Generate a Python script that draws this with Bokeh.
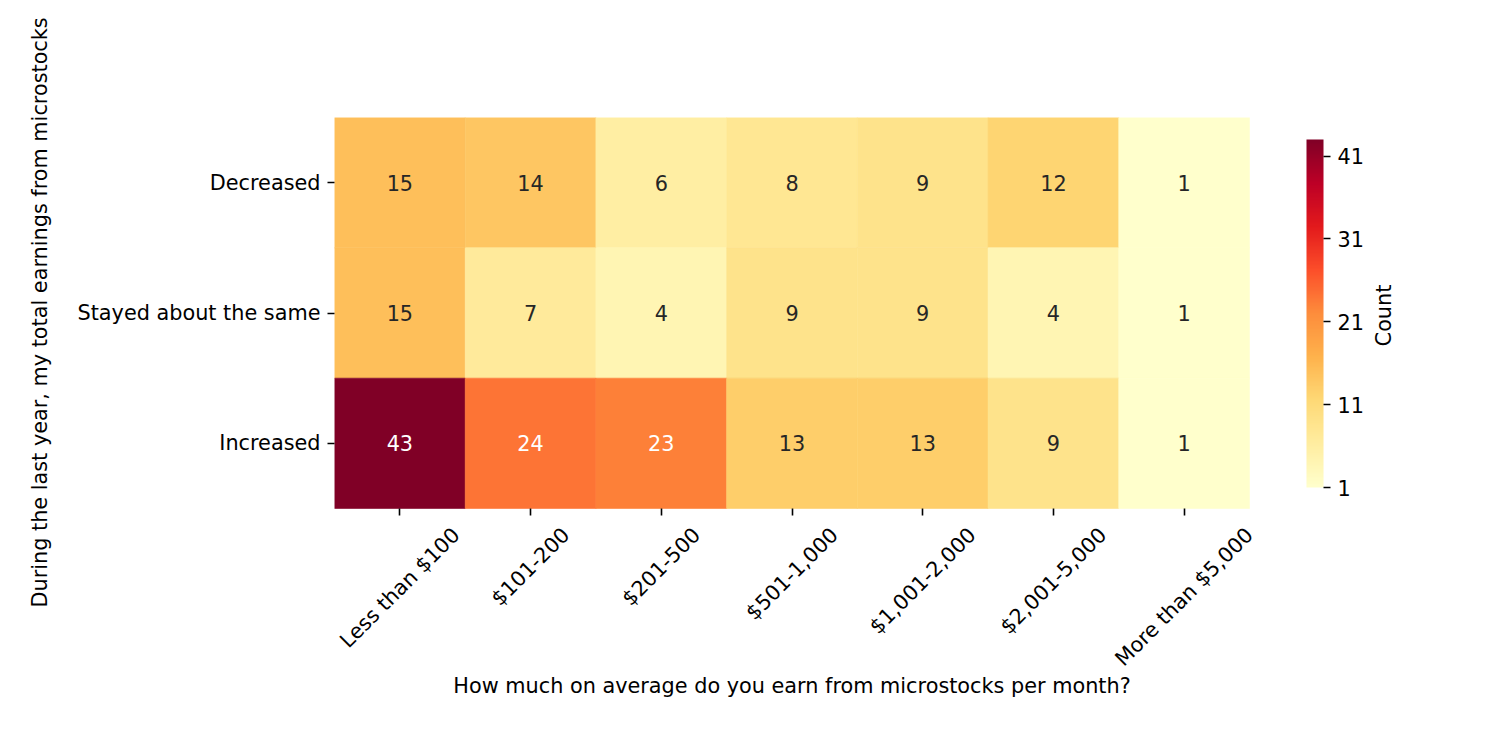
import numpy as np
from bokeh.plotting import figure
from bokeh.models import (ColumnDataSource, Range1d, LinearColorMapper,
                          FixedTicker, LinearAxis, Title)
from bokeh.transform import transform
from bokeh.core.properties import value
from bokeh.embed import file_html
from bokeh.resources import INLINE

# ---- data ----
earn_cats = ["Less than $100", "$101-200", "$201-500", "$501-1,000",
             "$1,001-2,000", "$2,001-5,000", "More than $5,000"]
trend_cats = ["Decreased", "Stayed about the same", "Increased"]
decreased = [15, 14, 6, 8, 9, 12, 1]
stayed = [15, 7, 4, 9, 9, 4, 1]
increased = [43, 24, 23, 13, 13, 9, 1]
cbar_ticks = [1, 11, 21, 31, 41]
vmin, vmax = 1, 43
x_title = "How much on average do you earn from microstocks per month?"
y_title = "During the last year, my total earnings from microstocks"
cb_title = "Count"

FONT = "DejaVu Sans"
FS = 20.8  # px
TXT_DARK = "#262626"

# ---- layout (pixels) ----
FRAME_L, FRAME_T = 334, 117
HEAT_W, HEAT_H = 915, 391
FRAME_W, FRAME_H = 1076, 588
CB_L, CB_R, CB_T, CB_B = 1306, 1323, 139, 487
CB_TITLE_X, CB_TITLE_Y = 1383, 315
XTITLE_Y = 685
YTITLE_BOTTOM = 607
TICK = 7
PAD = 7.3

nx, ny = len(earn_cats), len(trend_cats)
ux = HEAT_W / nx
uy = HEAT_H / ny
heat_bottom = FRAME_T + HEAT_H
cbu = (CB_B - CB_T) / (vmax - vmin)

# YlOrRd palette (ColorBrewer 9) interpolated to 256
base = ['#ffffcc', '#ffeda0', '#fed976', '#feb24c', '#fd8d3c',
        '#fc4e2a', '#e31a1c', '#bd0026', '#800026']
def h2rgb(h):
    return np.array([int(h[i:i + 2], 16) for i in (1, 3, 5)], dtype=float)
brgb = np.array([h2rgb(c) for c in base])
pos = np.linspace(0, 1, len(base))
t = np.linspace(0, 1, 256)
pal_rgb = np.stack([np.interp(t, pos, brgb[:, k]) for k in range(3)], axis=1)
palette = ["#%02x%02x%02x" % tuple(int(round(v)) for v in c) for c in pal_rgb]
mapper = LinearColorMapper(palette=palette, low=vmin, high=vmax)

# row index 0 = bottom (Increased)
xs, ys, vals, tcolors = [], [], [], []
for cat, series in zip(trend_cats, [decreased, stayed, increased]):
    r_idx = ny - 1 - trend_cats.index(cat)
    for c_idx, v in enumerate(series):
        xs.append(c_idx + 0.5)
        ys.append(r_idx + 0.5)
        vals.append(v)
        idx = int(np.clip((v - vmin) / (vmax - vmin) * 255, 0, 255))
        r, g, b = pal_rgb[idx] / 255.0
        lin = [c / 12.92 if c <= 0.03928 else ((c + 0.055) / 1.055) ** 2.4 for c in (r, g, b)]
        lum = 0.2126 * lin[0] + 0.7152 * lin[1] + 0.0722 * lin[2]
        tcolors.append("#ffffff" if lum < 0.408 else TXT_DARK)
src = ColumnDataSource(dict(x=xs, y=ys, v=vals, txt=[str(v) for v in vals], tc=tcolors))

x_range = Range1d(0, FRAME_W / ux)
y_range = Range1d(ny - FRAME_H / uy, ny)
cb_range = Range1d(vmin - (FRAME_T + FRAME_H - CB_B) / cbu, vmax + (CB_T - FRAME_T) / cbu)

p = figure(x_range=x_range, y_range=y_range, frame_width=FRAME_W, frame_height=FRAME_H,
           output_backend="svg", toolbar_location=None,
           min_border_left=FRAME_L, min_border_top=FRAME_T,
           min_border_right=0, min_border_bottom=0)
p.extra_y_ranges = {"cb": cb_range}
p.outline_line_color = None
p.grid.grid_line_color = None
p.background_fill_color = "#ffffff"
p.border_fill_color = "#ffffff"

# heatmap cells
p.rect(x="x", y="y", width=1, height=1, source=src,
       fill_color=transform("v", mapper), line_color=transform("v", mapper),
       line_width=0.6)
p.text(x="x", y="y", text="txt", source=src, text_color="tc",
       text_align="center", text_baseline="middle", text_font_size=f"{FS}px",
       text_font=value(FONT))

# axes
def style_axis(ax):
    ax.axis_line_color = None
    ax.major_tick_line_color = "#000000"
    ax.major_tick_line_width = 1.6
    ax.major_tick_in = 0
    ax.major_tick_out = TICK
    ax.minor_tick_line_color = None
    ax.major_label_text_font = FONT
    ax.major_label_text_font_size = f"{FS}px"
    ax.major_label_text_color = "#000000"
    ax.major_label_standoff = 7
    ax.axis_label_text_font = FONT
    ax.axis_label_text_font_size = f"{FS}px"
    ax.axis_label_text_font_style = "normal"
    ax.axis_label_text_color = "#000000"

ya = p.yaxis[0]
style_axis(ya)
row_ticks = [ny - 1 - i + 0.5 for i in range(ny)]
ya.ticker = FixedTicker(ticks=row_ticks)
ya.major_label_overrides = {tk: lab for tk, lab in zip(row_ticks, trend_cats)}

# y axis title, centred on the heatmap rows (not on the taller frame)
p.add_layout(Title(text=y_title, align="left",
                   offset=(FRAME_T + FRAME_H) - YTITLE_BOTTOM, standoff=45,
                   text_font=FONT, text_font_size=f"{FS}px",
                   text_font_style="normal", text_color="#000000"), "left")

xa = p.xaxis[0]
style_axis(xa)
col_ticks = [i + 0.5 for i in range(nx)]
xa.ticker = FixedTicker(ticks=col_ticks)
xa.fixed_location = 0
xa.major_label_text_color = None

# rotated x tick labels: bounding box centred under each tick
adv = {' ': 651, '$': 1303, ',': 651, '-': 739, 'L': 1141, 'M': 1767,
       'a': 1255, 'e': 1260, 'h': 1298, 'n': 1298, 'o': 1253, 'r': 842,
       's': 1067, 't': 803}
def text_len(s):
    return sum(adv.get(ch, 1303) for ch in s) / 2048.0 * FS
box_h = 1.164 * FS
lab_y = [-(TICK + PAD + 0.3536 * (text_len(s) + box_h)) / uy for s in earn_cats]
p.text(x=col_ticks, y=lab_y, text=earn_cats, angle=np.pi / 4,
       text_align="center", text_baseline="middle", text_color="#000000",
       text_font=value(FONT), text_font_size=f"{FS}px")

# x axis title
p.text(x=[nx / 2], y=[-(XTITLE_Y - heat_bottom) / uy], text=[x_title],
       text_align="center", text_baseline="middle", text_color="#000000",
       text_font=value(FONT), text_font_size=f"{FS}px")

# colour bar
cb_x0 = (CB_L - FRAME_L) / ux
cb_x1 = (CB_R - FRAME_L) / ux
grad = np.linspace(vmin, vmax, 256).reshape(-1, 1)
p.image(image=[grad], x=cb_x0, y=vmin, dw=cb_x1 - cb_x0, dh=vmax - vmin,
        color_mapper=mapper, y_range_name="cb")
cba = LinearAxis(y_range_name="cb", ticker=FixedTicker(ticks=cbar_ticks))
style_axis(cba)
cba.fixed_location = cb_x1
p.add_layout(cba, "right")
p.text(x=[(CB_TITLE_X - FRAME_L) / ux], y=[vmin + (CB_B - CB_TITLE_Y) / cbu],
       text=[cb_title], angle=np.pi / 2, y_range_name="cb",
       text_align="center", text_baseline="middle", text_color="#000000",
       text_font=value(FONT), text_font_size=f"{FS}px")

open("out.html", "w").write(file_html(p, INLINE))
